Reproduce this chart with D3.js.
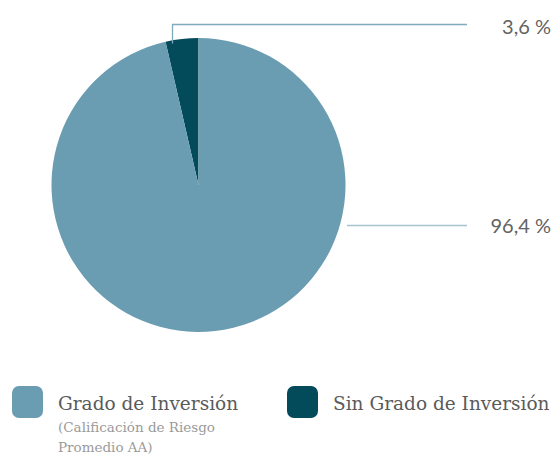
<!DOCTYPE html>
<html>
<head>
<meta charset="utf-8">
<script src="https://cdn.jsdelivr.net/npm/d3@7"></script>
<style>
  html, body { margin: 0; padding: 0; background: #fff; }
  svg { display: block; }
</style>
</head>
<body>
<svg id="chart" width="552" height="456"></svg>
<script>
// Portfolio split by credit rating
const categories = ["Grado de Inversión", "Sin Grado de Inversión"];
const values = [96.4, 3.6];
const valueLabels = ["96,4 %", "3,6 %"];
const subLabels = [["(Calificación de Riesgo", "Promedio AA)"], []];
const colors = ["#6a9cb2", "#034a5b"];

const svg = d3.select("#chart");
const cx = 198.5, cy = 185, r = 147;

// Small slice runs counter-clockwise from 12 o'clock, large slice fills the rest
const pie = d3.pie().sort(null).value(d => d.v)
  .startAngle(-2 * Math.PI * values[1] / 100)
  .endAngle(2 * Math.PI - 2 * Math.PI * values[1] / 100);
const data = [{ v: values[1], i: 1 }, { v: values[0], i: 0 }];
const arcs = pie(data);
const arc = d3.arc().innerRadius(0).outerRadius(r);

const g = svg.append("g").attr("transform", `translate(${cx},${cy})`);
g.selectAll("path").data(arcs).join("path")
  .attr("d", arc)
  .attr("fill", d => colors[d.data.i]);

// Leader lines and value labels
const lineEndX = 467;
const small = arcs[0];
const sAng = small.startAngle + (small.endAngle - small.startAngle) * 0.2;
const sx = Math.round(cx + r * Math.sin(sAng)) + 0.5;
const sy = cy - r * Math.cos(sAng) + 3;
svg.append("path")
  .attr("d", `M${sx},${sy}V24.5H${lineEndX}`)
  .attr("fill", "none").attr("stroke", "#7fa9bc").attr("stroke-width", 1.3);
svg.append("path")
  .attr("d", `M${cx + r + 1.5},225.5H${lineEndX}`)
  .attr("fill", "none").attr("stroke", "#a6c3d0").attr("stroke-width", 1.5);

const labelFont = "Lato, 'Open Sans', sans-serif";
svg.append("text").attr("x", 551).attr("y", 34)
  .attr("text-anchor", "end").attr("font-family", labelFont)
  .attr("font-size", 20).attr("font-weight", 400).attr("fill", "#636363")
  .text(valueLabels[1]);
svg.append("text").attr("x", 551).attr("y", 233)
  .attr("text-anchor", "end").attr("font-family", labelFont)
  .attr("font-size", 20).attr("font-weight", 400).attr("fill", "#636363")
  .text(valueLabels[0]);

// Legend
const legendFont = "'DejaVu Serif', serif";
const legendX = [12, 287];
categories.forEach((c, i) => {
  const lg = svg.append("g").attr("transform", `translate(${legendX[i]},386)`);
  lg.append("rect").attr("width", 31).attr("height", 32).attr("rx", 7)
    .attr("fill", colors[i]);
  lg.append("text").attr("x", 46).attr("y", 24)
    .attr("font-family", legendFont).attr("font-size", 18.5)
    .attr("fill", "#5a5a5a").text(c);
  subLabels[i].forEach((s, j) => {
    lg.append("text").attr("x", 46).attr("y", 46 + j * 20)
      .attr("font-family", legendFont).attr("font-size", 13.5)
      .attr("fill", "#9a9a9a").text(s);
  });
});
</script>
</body>
</html>
